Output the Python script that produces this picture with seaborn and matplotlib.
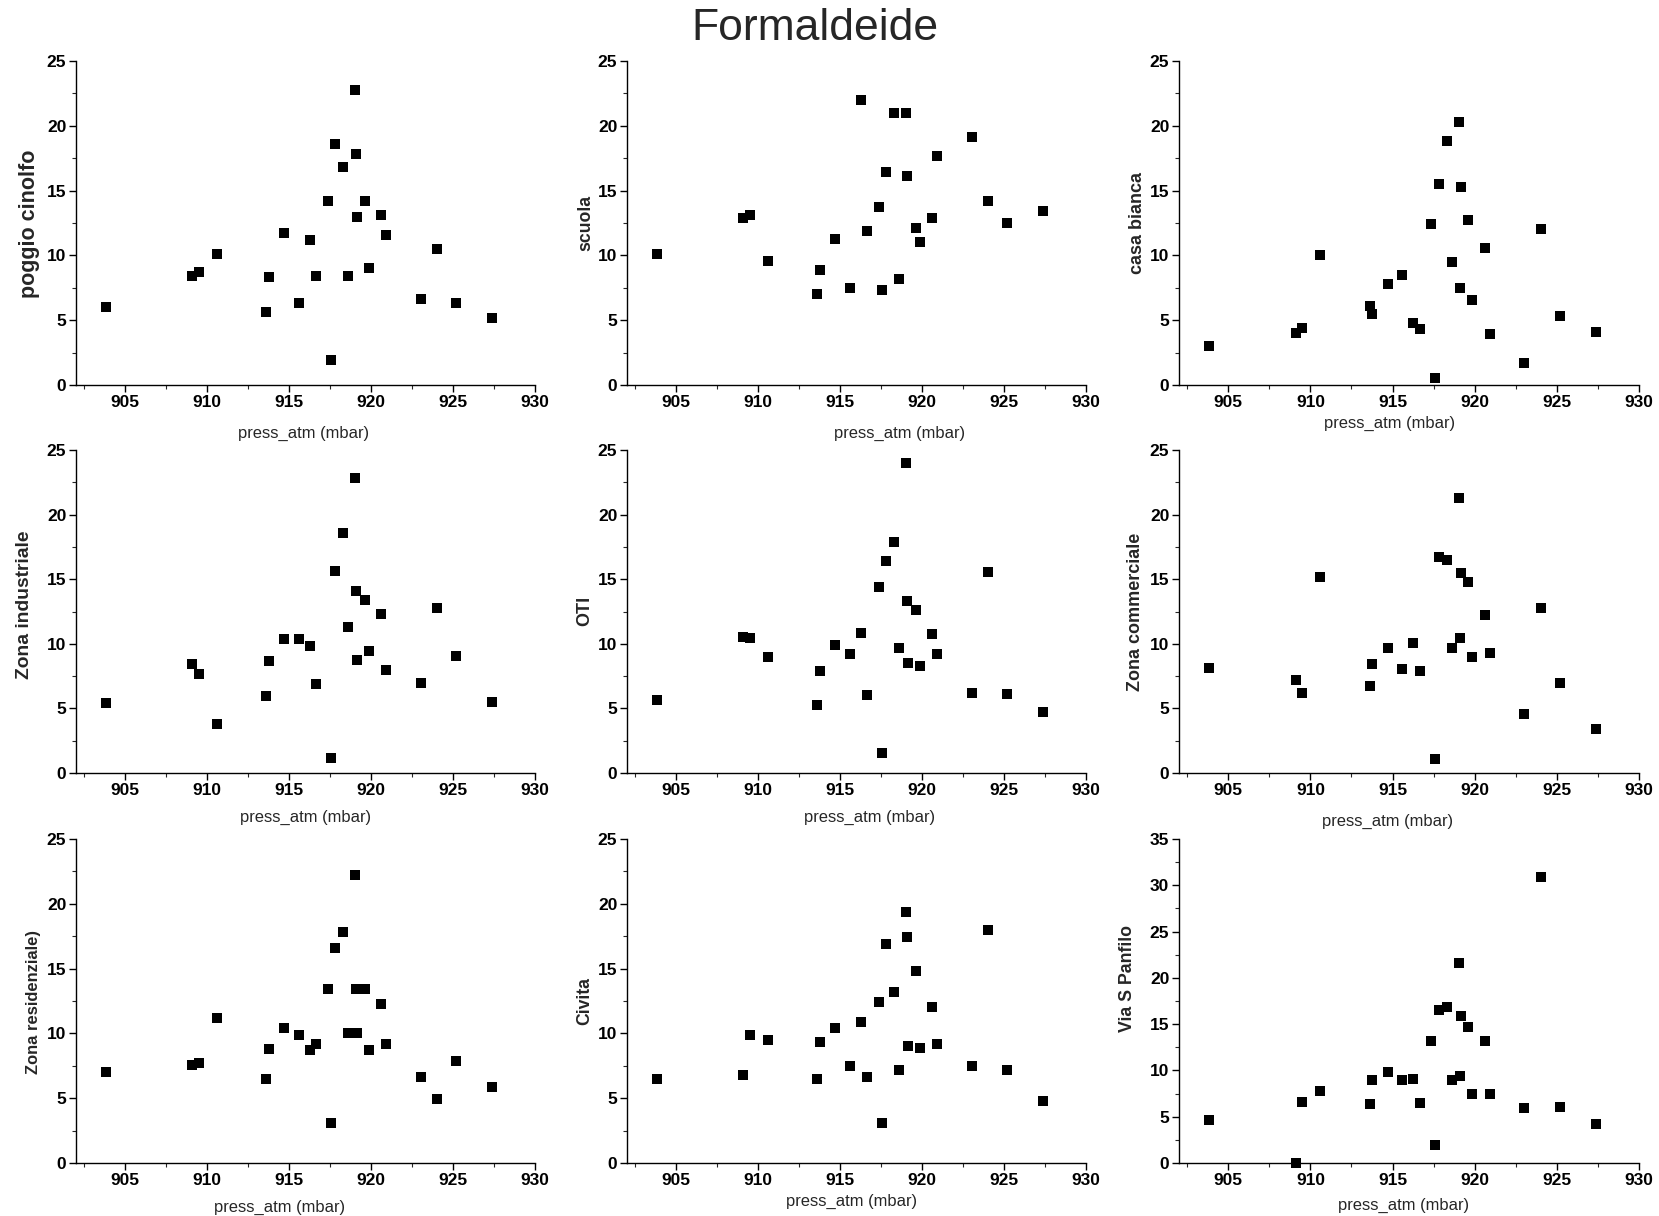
import numpy as np
import pandas as pd
import matplotlib
matplotlib.use("Agg")
import matplotlib.pyplot as plt
import seaborn as sns
from matplotlib.ticker import MultipleLocator

nan = np.nan

press = [903.8, 909.1, 909.5, 910.6, 913.6, 913.75, 914.7, 915.6, 916.25, 916.65,
         917.35, 917.58, 917.82, 918.3, 918.62, 919.04, 919.1, 919.15, 919.6, 919.85,
         920.6, 920.92, 923.02, 924.05, 925.2, 927.38]

poggio_cinolfo = [6.0, 8.4, 8.7, 10.1, 5.6, 8.3, 11.7, 6.3, 11.2, 8.4,
                  14.2, 1.95, 18.6, 16.85, 8.4, 22.8, 17.8, 13.0, 14.2, 9.05,
                  13.1, 11.6, 6.6, 10.5, 6.35, 5.2]
scuola = [10.1, 12.9, 13.15, 9.6, 7.05, 8.9, 11.3, 7.5, 22.0, 11.9,
          13.7, 7.35, 16.45, 21.0, 8.2, 21.0, 16.15, nan, 12.1, 11.0,
          12.9, 17.7, 19.1, 14.2, 12.5, 13.4]
casa_bianca = [3.0, 4.05, 4.4, 10.0, 6.1, 5.5, 7.8, 8.5, 4.8, 4.35,
               12.45, 0.57, 15.5, 18.85, 9.5, 20.3, 7.45, 15.3, 12.7, 6.55,
               10.6, 3.95, 1.72, 12.05, 5.3, 4.1]
zona_industriale = [5.4, 8.4, 7.7, 3.8, 5.95, 8.65, 10.35, 10.35, 9.8, 6.9,
                    nan, 1.15, 15.6, 18.6, 11.3, 22.85, 14.05, 8.75, 13.4, 9.45,
                    12.3, 7.95, 6.95, 12.8, 9.05, 5.5]
oti = [5.65, 10.5, 10.45, 8.95, 5.25, 7.9, 9.9, 9.2, 10.8, 6.0,
       14.4, 1.55, 16.4, 17.85, 9.65, 24.0, 13.35, 8.5, 12.65, 8.25,
       10.75, 9.2, 6.2, 15.55, 6.1, 4.7]
zona_commerciale = [8.1, 7.2, 6.2, 15.2, 6.7, 8.4, 9.65, 8.05, 10.05, 7.9,
                    nan, 1.1, 16.7, 16.45, 9.65, 21.3, 10.45, 15.45, 14.75, 8.95,
                    12.2, 9.25, 4.55, 12.75, 6.95, 3.4]
zona_residenziale = [7.05, 7.6, 7.75, 11.2, 6.45, 8.8, 10.45, 9.9, 8.75, 9.2,
                     13.45, 3.1, 16.6, 17.8, 10.0, 22.25, 13.45, 10.05, 13.4, 8.75,
                     12.3, 9.2, 6.6, 4.95, 7.85, 5.9]
civita = [6.45, 6.8, 9.9, 9.5, 6.5, 9.3, 10.4, 7.45, 10.9, 6.65,
          12.45, 3.1, 16.9, 13.2, 7.2, 19.4, 17.45, 9.0, 14.85, 8.9,
          12.0, 9.2, 7.5, 17.95, 7.2, 4.8]
via_s_panfilo = [4.6, 0.0, 6.6, 7.8, 6.4, 9.0, 9.8, 9.0, 9.1, 6.5,
                 13.2, 1.9, 16.5, 16.9, 9.0, 21.6, 9.35, 15.85, 14.65, 7.5,
                 13.2, 7.5, 5.9, 30.9, 6.1, 4.25]

site_labels = ["poggio cinolfo", "scuola", "casa bianca",
               "Zona industriale", "OTI", "Zona commerciale",
               "Zona residenziale)", "Civita", "Via S Panfilo"]
site_values = [poggio_cinolfo, scuola, casa_bianca,
               zona_industriale, oti, zona_commerciale,
               zona_residenziale, civita, via_s_panfilo]
y_max = [25, 25, 25, 25, 25, 25, 25, 25, 35]
title = "Formaldeide"
x_label = "press_atm (mbar)"
x_ticks = [905, 910, 915, 920, 925, 930]

sns.set_style("ticks")
plt.rcParams['font.family'] = ['Liberation Sans', 'DejaVu Sans']

W, H = 1659, 1216
fig = plt.figure(figsize=(W / 100, H / 100), dpi=100)

col_left = [76, 627, 1179]
col_width = [459, 459, 460]
row_top = [61, 450, 839]
row_bottom = [385, 773, 1163]

ylabel_size = [15.5, 12.7, 13.0, 13.9, 13.0, 13.0, 11.9, 12.7, 12.8]
ylab_x = [30, 586, 1137, 25, 585, 1136, 34, 585, 1128]
ylab_y = [224, 223, 223, 605, 611, 612, 1002, 1001, 979]
xlab_x = [304, 899, 1389, 306, 870, 1388, 280, 851, 1404]
xlab_y = [433, 433, 423, 817, 817, 821, 1207, 1201, 1205]

for i in range(9):
    r, c = divmod(i, 3)
    left = col_left[c]
    width = col_width[c]
    top = row_top[r]
    bottom = row_bottom[r]
    height = bottom - top
    ax = fig.add_axes([left / W, 1 - bottom / H, width / W, height / H])
    df = pd.DataFrame({"press": press, "val": site_values[i]}).dropna()
    sns.scatterplot(data=df, x="press", y="val", ax=ax, marker="s", s=56,
                    color="black", linewidth=0, clip_on=False)
    ax.set_xlim(902, 930)
    ax.set_ylim(0, y_max[i])
    ax.xaxis.set_major_locator(MultipleLocator(5))
    ax.xaxis.set_minor_locator(MultipleLocator(2.5))
    ax.yaxis.set_major_locator(MultipleLocator(5))
    ax.yaxis.set_minor_locator(MultipleLocator(2.5))
    ax.set_xticks(x_ticks)
    sns.despine(ax=ax)
    for sp in ["left", "bottom"]:
        ax.spines[sp].set_linewidth(1.0)
        ax.spines[sp].set_color("black")
    ax.tick_params(axis="both", which="major", direction="out", length=5, width=1,
                   labelsize=12.5, pad=2, colors="black")
    ax.tick_params(axis="both", which="minor", direction="out", length=3, width=0.8)
    for lab in ax.get_xticklabels() + ax.get_yticklabels():
        lab.set_fontweight("bold")
    ax.set_xlabel(x_label, fontsize=11.9)
    ax.set_ylabel(site_labels[i], fontsize=ylabel_size[i], fontweight="bold")
    ax.xaxis.set_label_coords((xlab_x[i] - left) / width, (bottom - xlab_y[i]) / height)
    ax.xaxis.label.set_va("center")
    ax.yaxis.set_label_coords((ylab_x[i] - left) / width, (bottom - ylab_y[i]) / height)
    ax.yaxis.label.set_va("center")

fig.text(815 / W, 1 - 29 / H, title, ha="center", va="center", fontsize=32)

fig.savefig("out.png", dpi=100)
